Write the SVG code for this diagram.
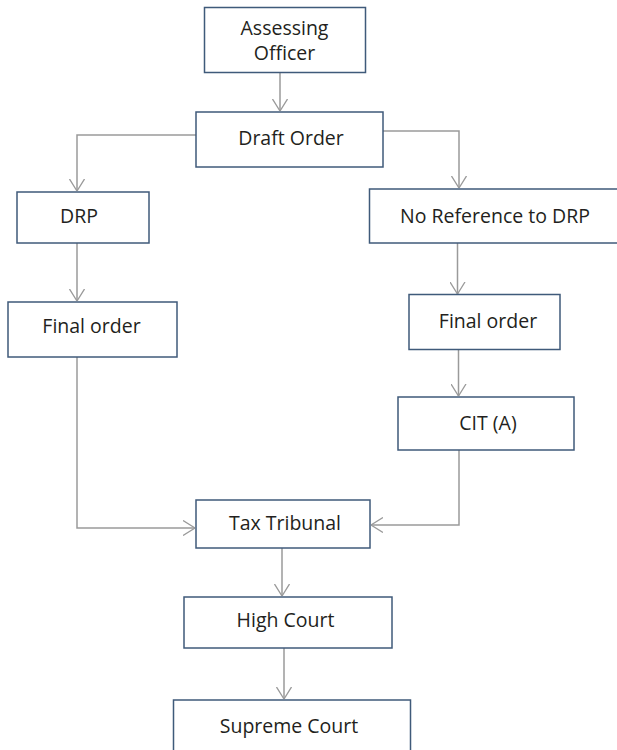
<svg xmlns="http://www.w3.org/2000/svg" width="617" height="750" viewBox="0 0 617 750">
<style>
.box{fill:#ffffff;stroke:#3f5a7a;stroke-width:1.5}
.lbl{font-family:"Open Sans","Noto Sans","Liberation Sans",sans-serif;font-size:19.5px;fill:#231f20;text-anchor:middle}
.con{fill:none;stroke:#9a9a9a;stroke-width:1.5}
</style>
<defs>
<marker id="arr" viewBox="0 0 12 16" refX="12" refY="8" markerWidth="12" markerHeight="16" markerUnits="userSpaceOnUse" orient="auto">
<path d="M0,0.5 L12,8 L0,15.5" fill="none" stroke="#9a9a9a" stroke-width="1.3"/>
</marker>
</defs>
<rect width="617" height="750" fill="#ffffff"/>
<g id="connectors">
<path class="con" d="M280,73 V111" marker-end="url(#arr)"/>
<path class="con" d="M196,135 H77 V191" marker-end="url(#arr)"/>
<path class="con" d="M383,131 H459 V188" marker-end="url(#arr)"/>
<path class="con" d="M77,243 V301" marker-end="url(#arr)"/>
<path class="con" d="M77,357 V528 H195" marker-end="url(#arr)"/>
<path class="con" d="M457.5,243 V294" marker-end="url(#arr)"/>
<path class="con" d="M458.5,349 V396" marker-end="url(#arr)"/>
<path class="con" d="M459,450 V525 H371" marker-end="url(#arr)"/>
<path class="con" d="M282,548 V596" marker-end="url(#arr)"/>
<path class="con" d="M284,648 V699" marker-end="url(#arr)"/>
</g>
<g id="assessing-officer">
<rect class="box" x="204.5" y="7.5" width="161" height="65"/>
<text class="lbl" x="284.5" y="35">Assessing</text>
<text class="lbl" x="284.5" y="60">Officer</text>
</g>
<g id="draft-order">
<rect class="box" x="196" y="112" width="187" height="55"/>
<text class="lbl" x="291" y="145">Draft Order</text>
</g>
<g id="drp">
<rect class="box" x="17" y="192" width="132" height="51"/>
<text class="lbl" x="79" y="223">DRP</text>
</g>
<g id="final-order-left">
<rect class="box" x="8" y="302" width="169" height="55"/>
<text class="lbl" x="91.5" y="333">Final order</text>
</g>
<g id="no-reference">
<rect class="box" x="369.5" y="189" width="260" height="54"/>
<text class="lbl" x="495" y="223">No Reference to DRP</text>
</g>
<g id="final-order-right">
<rect class="box" x="409" y="294.5" width="151" height="55"/>
<text class="lbl" x="488" y="328">Final order</text>
</g>
<g id="cit-a">
<rect class="box" x="398" y="397" width="176" height="53"/>
<text class="lbl" x="488" y="430">CIT (A)</text>
</g>
<g id="tax-tribunal">
<rect class="box" x="196" y="500" width="174" height="48"/>
<text class="lbl" x="285" y="530">Tax Tribunal</text>
</g>
<g id="high-court">
<rect class="box" x="184" y="597" width="208" height="51"/>
<text class="lbl" x="285.5" y="627">High Court</text>
</g>
<g id="supreme-court">
<rect class="box" x="173.5" y="700" width="237" height="80"/>
<text class="lbl" x="289" y="733">Supreme Court</text>
</g>
</svg>
